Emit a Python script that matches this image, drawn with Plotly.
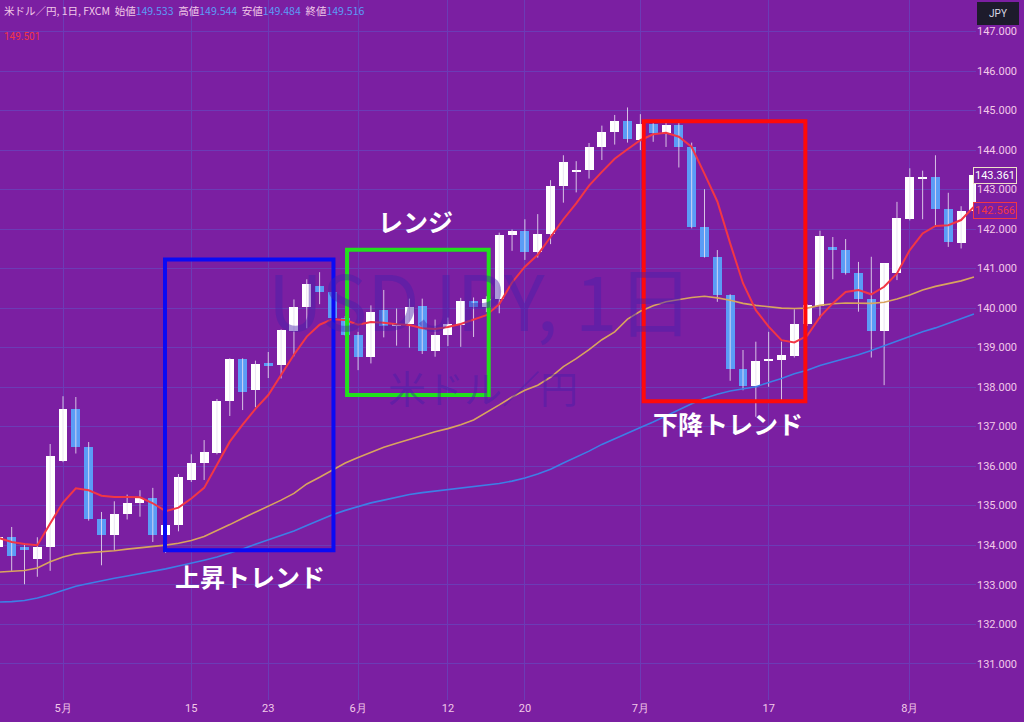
import pandas as pd
import plotly.graph_objects as go

# ---------------- data (USD/JPY daily) ----------------
dates = [d.strftime("%Y-%m-%d") for d in pd.bdate_range("2023-04-24", "2023-08-08")]

open_ = [133.95, 134.20, 133.96, 133.64, 133.96, 136.14, 137.45, 136.49, 134.67, 134.25,
         134.78, 135.06, 135.20, 134.25, 134.50, 135.65, 136.08, 136.34, 137.65, 138.70,
         137.92, 138.60, 138.55, 139.43, 140.02, 140.56, 140.42, 139.75, 139.32, 138.77,
         139.95, 139.56, 139.59, 140.05, 138.91, 139.33, 139.58, 140.19, 140.02, 140.23,
         141.84, 141.95, 141.43, 141.87, 143.10, 143.46, 143.49, 144.07, 144.46, 144.74,
         144.25, 144.66, 144.44, 144.63, 144.07, 142.06, 141.30, 140.33, 138.47, 138.03,
         138.67, 138.68, 138.79, 139.61, 140.06, 141.54, 141.48, 140.88, 140.23, 139.42,
         140.88, 142.25, 143.29, 143.31, 142.51, 141.64, 142.46]
high = [134.35, 134.46, 134.05, 134.20, 136.56, 137.77, 137.75, 136.61, 134.84, 135.11,
        135.28, 135.39, 135.45, 134.55, 135.80, 136.30, 136.66, 137.70, 138.73, 138.73,
        138.67, 138.89, 139.46, 140.22, 140.73, 140.91, 140.45, 139.80, 139.40, 140.07,
        140.46, 139.99, 140.24, 140.24, 139.71, 139.76, 140.26, 140.27, 140.30, 141.91,
        141.99, 142.25, 142.38, 143.24, 143.87, 143.72, 144.18, 144.62, 144.89, 145.08,
        144.91, 144.70, 144.70, 144.70, 144.19, 143.01, 141.47, 140.35, 138.94, 139.15,
        139.40, 139.15, 139.97, 140.10, 141.96, 141.80, 141.75, 141.17, 141.30, 141.13,
        142.69, 143.54, 143.48, 143.87, 142.92, 142.58, 143.40]
low = [133.85, 133.35, 133.01, 133.20, 133.35, 136.10, 136.32, 134.62, 133.49, 133.87,
       134.65, 134.72, 134.08, 133.80, 134.35, 135.60, 135.65, 136.30, 137.27, 137.42,
       137.49, 138.23, 138.22, 138.78, 139.49, 140.10, 139.70, 139.30, 138.43, 138.60,
       139.26, 139.05, 139.00, 138.84, 138.77, 139.04, 139.02, 139.27, 139.90, 139.87,
       141.45, 141.22, 141.28, 141.62, 142.67, 142.93, 143.28, 143.75, 144.14, 144.19,
       144.00, 144.21, 144.08, 143.56, 142.02, 141.28, 140.16, 138.16, 137.92, 137.25,
       138.01, 137.67, 138.75, 139.55, 139.74, 140.73, 140.85, 139.91, 138.75, 138.05,
       140.71, 142.22, 142.25, 142.10, 141.55, 141.51, 142.40]
close = [134.20, 133.72, 133.87, 133.96, 136.25, 137.45, 136.49, 134.67, 134.25, 134.78,
         135.06, 135.20, 134.25, 134.50, 135.73, 136.08, 136.35, 137.65, 138.70, 137.88,
         138.58, 138.54, 139.44, 140.02, 140.60, 140.41, 139.74, 139.32, 138.77, 139.90,
         139.55, 139.59, 140.03, 138.91, 139.32, 139.59, 140.19, 140.03, 140.24, 141.85,
         141.95, 141.43, 141.87, 143.10, 143.69, 143.49, 144.07, 144.46, 144.74, 144.27,
         144.66, 144.44, 144.63, 144.07, 142.06, 141.30, 140.33, 138.47, 138.03, 138.67,
         138.70, 138.81, 139.61, 140.07, 141.82, 141.47, 140.88, 140.23, 139.42, 141.13,
         142.27, 143.31, 143.31, 142.51, 141.68, 142.46, 143.36]

ma_fast = [134.18, 134.08, 134.03, 134.00, 134.55, 135.08, 135.44, 135.39, 135.25, 135.22,
           135.22, 135.21, 135.06, 134.86, 134.95, 135.18, 135.45, 136.05, 136.62, 137.05,
           137.45, 137.80, 138.30, 138.82, 139.28, 139.58, 139.72, 139.70, 139.58, 139.65,
           139.63, 139.59, 139.57, 139.49, 139.47, 139.52, 139.60, 139.72, 139.82, 140.10,
           140.65, 141.05, 141.35, 141.80, 142.25, 142.65, 143.10, 143.45, 143.78, 144.02,
           144.25, 144.40, 144.44, 144.34, 144.08, 143.40, 142.70, 141.64, 140.63, 139.95,
           139.53, 139.19, 139.13, 139.30, 139.78, 140.12, 140.41, 140.46, 140.35, 140.54,
           140.88, 141.47, 141.89, 142.08, 142.10, 142.23, 142.57]
ma_mid = [133.32, 133.34, 133.36, 133.42, 133.58, 133.70, 133.78, 133.81, 133.83, 133.86,
          133.90, 133.93, 133.96, 134.00, 134.05, 134.12, 134.22, 134.36, 134.52, 134.68,
          134.83, 134.98, 135.14, 135.31, 135.55, 135.72, 135.90, 136.08, 136.22, 136.35,
          136.48, 136.58, 136.68, 136.78, 136.87, 136.95, 137.05, 137.17, 137.35, 137.55,
          137.75, 137.92, 138.05, 138.25, 138.52, 138.72, 138.95, 139.20, 139.40, 139.72,
          139.92, 140.06, 140.16, 140.22, 140.27, 140.30, 140.26, 140.20, 140.12, 140.07,
          140.03, 140.00, 139.99, 140.00, 140.07, 140.11, 140.13, 140.13, 140.12, 140.15,
          140.23, 140.33, 140.46, 140.55, 140.62, 140.69, 140.79]
ma_slow = [132.56, 132.57, 132.60, 132.66, 132.75, 132.86, 132.96, 133.03, 133.10, 133.16,
           133.22, 133.28, 133.33, 133.40, 133.47, 133.54, 133.62, 133.70, 133.80, 133.90,
           134.02, 134.13, 134.25, 134.36, 134.50, 134.64, 134.77, 134.88, 134.98, 135.07,
           135.14, 135.21, 135.28, 135.33, 135.37, 135.40, 135.44, 135.48, 135.52, 135.56,
           135.62, 135.70, 135.80, 135.92, 136.08, 136.22, 136.38, 136.55, 136.70, 136.84,
           136.98, 137.12, 137.28, 137.42, 137.58, 137.72, 137.82, 137.90, 137.96, 138.01,
           138.12, 138.22, 138.34, 138.43, 138.55, 138.64, 138.72, 138.82, 138.93, 139.05,
           139.15, 139.28, 139.40, 139.50, 139.62, 139.74, 139.85]

tick_dates = ["2023-05-01", "2023-05-15", "2023-05-23", "2023-06-01", "2023-06-12",
              "2023-06-20", "2023-07-03", "2023-07-17", "2023-08-01"]
tick_text = ["5月", "15", "23", "6月", "12", "20", "7月", "17", "8月"]

last_price = 143.361
ma_last = 142.566

# ---------------- styling ----------------
BG = "#7B1FA2"
GRID = "#6C3BB6"
TXT = "#F2C9E8"
UP = "#FFFFFF"
DOWN = "#5B9CF6"
WICK = "rgba(232,222,240,0.85)"
JP = "Noto Sans CJK JP"

xs = list(range(len(dates)))
tickvals = [dates.index(d) for d in tick_dates]

fig = go.Figure()

# wicks
wx, wy = [], []
for i in xs:
    wx += [i, i, None]
    wy += [low[i], high[i], None]
fig.add_trace(go.Scatter(x=wx, y=wy, mode="lines", line=dict(color=WICK, width=1),
                         hoverinfo="skip", showlegend=False))

# bodies
body, colors = [], []
for o, c in zip(open_, close):
    d = c - o
    if abs(d) < 0.04:
        d = 0.04 if d >= 0 else -0.04
    body.append(d)
    colors.append(UP if c >= o else DOWN)
fig.add_trace(go.Bar(x=xs, y=body, base=open_, width=0.7,
                     marker=dict(color=colors, line=dict(width=0)),
                     showlegend=False, customdata=dates))

# moving averages
fig.add_trace(go.Scatter(x=xs, y=ma_slow, mode="lines",
                         line=dict(color="#3D7FE6", width=1.6), showlegend=False))
fig.add_trace(go.Scatter(x=xs, y=ma_mid, mode="lines",
                         line=dict(color="#D9A45E", width=1.6), showlegend=False))
fig.add_trace(go.Scatter(x=xs, y=ma_fast, mode="lines",
                         line=dict(color="#F23645", width=2), showlegend=False))

# highlight boxes
boxes = [
    (12.95, 26.08, 133.87, 141.23, "#0A0AF5"),
    (27.14, 38.18, 137.80, 141.48, "#22E01E"),
    (50.26, 62.86, 137.64, 144.73, "#FF0A0A"),
]
for x0, x1, y0, y1, col in boxes:
    fig.add_shape(type="rect", x0=x0, x1=x1, y0=y0, y1=y1, xref="x", yref="y",
                  line=dict(color=col, width=4), fillcolor="rgba(0,0,0,0)", layer="above")

annotations = []
# watermark
annotations.append(dict(text="USDJPY, 1日", x=0.492, y=0.575, xref="paper", yref="paper",
                        showarrow=False, font=dict(family="Liberation Sans Narrow, " + JP, size=76,
                                                   color="rgba(70,30,170,0.45)")))
annotations.append(dict(text="米ドル／円", x=0.495, y=0.448, xref="paper", yref="paper",
                        showarrow=False, font=dict(family=JP, size=38,
                                                   color="rgba(70,30,170,0.45)")))
# trend labels
for txt, x, y in [("上昇トレンド", 19.6, 133.22), ("レンジ", 32.45, 142.2), ("下降トレンド", 56.85, 137.09)]:
    annotations.append(dict(text="<b>" + txt + "</b>", x=x, y=y, xref="x", yref="y",
                            showarrow=False, font=dict(family=JP, size=25, color="white")))

# header
hdr = ("米ドル／円, 1日, FXCM &nbsp;始値<span style='color:#5B9CF6'>149.533</span>"
       "&nbsp;&nbsp;高値<span style='color:#5B9CF6'>149.544</span>"
       "&nbsp;&nbsp;安値<span style='color:#5B9CF6'>149.484</span>"
       "&nbsp;&nbsp;終値<span style='color:#5B9CF6'>149.516</span>")
annotations.append(dict(text=hdr, x=0, y=1, xref="paper", yref="paper", xanchor="left",
                        yanchor="top", xshift=2, yshift=-1, showarrow=False,
                        font=dict(family=JP, size=10.5, color=TXT)))
annotations.append(dict(text="149.501", x=0, y=1, xref="paper", yref="paper", xanchor="left",
                        yanchor="top", xshift=2, yshift=-29, showarrow=False,
                        font=dict(family="Roboto", size=10, color="#F23645")))
# currency box
annotations.append(dict(text="JPY", x=1, y=1, xref="paper", yref="paper", xanchor="left",
                        yanchor="top", xshift=1, yshift=-2, showarrow=False,
                        bgcolor="#1D1B2B", bordercolor="#1D1B2B", borderpad=5, width=30,
                        font=dict(family="Roboto", size=10, color="#D8D8E4")))
# price labels
annotations.append(dict(text="143.361", x=1, y=last_price, xref="paper", yref="y",
                        xanchor="left", xshift=-3, showarrow=False, bgcolor=BG,
                        bordercolor="#F0E0C8", borderwidth=1, borderpad=1,
                        font=dict(family="Roboto", size=11, color="#FFFFFF")))
annotations.append(dict(text="142.566", x=1, y=ma_last - 0.1, xref="paper", yref="y",
                        xanchor="left", xshift=-3, showarrow=False, bgcolor=BG,
                        bordercolor="#F23645", borderwidth=1, borderpad=1,
                        font=dict(family="Roboto", size=11, color="#F23645")))

fig.update_layout(
    width=1024, height=722,
    margin=dict(l=0, r=48, t=0, b=22),
    paper_bgcolor=BG, plot_bgcolor=BG,
    bargap=0, showlegend=False,
    annotations=annotations,
    xaxis=dict(range=[0.09, 76.16], tickvals=tickvals, ticktext=tick_text,
               showgrid=True, gridcolor=GRID, gridwidth=1, zeroline=False,
               showline=False, ticks="", tickfont=dict(family="Roboto", size=11, color=TXT)),
    yaxis=dict(range=[130.08, 147.80], side="right", dtick=1, tick0=131,
               tickformat=".3f", showgrid=True, gridcolor=GRID, gridwidth=1,
               zeroline=False, showline=False, ticks="", automargin=False,
               tickfont=dict(family="Roboto", size=11, color=TXT)),
)

fig.write_html("out.html", config={"displayModeBar": False},
               post_script="document.body.style.margin='0px';document.body.style.background='" + BG + "';")
